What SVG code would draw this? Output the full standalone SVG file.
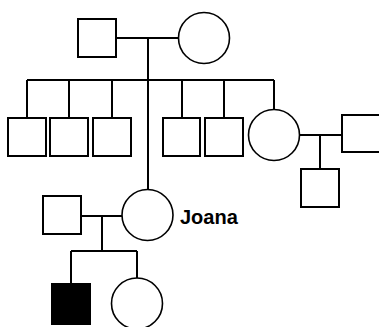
<svg xmlns="http://www.w3.org/2000/svg" width="379" height="327" viewBox="0 0 379 327">
  <style>
    .m { fill: #fff; stroke: #000; stroke-width: 2; }
    .f { fill: #fff; stroke: #000; stroke-width: 1.6; }
    .a { fill: #000; stroke: #000; stroke-width: 2; }
    .ln { fill: none; stroke: #000; stroke-width: 2; }
    .lbl { font-family: "Liberation Sans", Arial, sans-serif; font-weight: bold; font-size: 20px; fill: #000; }
  </style>
  <rect width="379" height="327" fill="#fff"/>
  <g id="connectors" class="ln">
    <!-- grandparents couple and descent -->
    <path d="M116 38H179M148 38V189"/>
    <path d="M27 80H274M27 80V118M69 80V118M112 80V118M182 80V118M224 80V118M274 80V109"/>
    <!-- daughter's couple -->
    <path d="M299 135H342M320 135V169"/>
    <!-- Joana's couple -->
    <path d="M81 216H122M102 216V251M71 251H137M71 251V284M137 251V278"/>
  </g>
  <g id="grandfather"><rect class="m" x="78" y="19" width="38" height="38"/></g>
  <g id="grandmother"><circle class="f" cx="204" cy="38" r="25.5"/></g>
  <g id="son1"><rect class="m" x="8" y="118" width="38" height="38"/></g>
  <g id="son2"><rect class="m" x="50" y="118" width="38" height="38"/></g>
  <g id="son3"><rect class="m" x="93" y="118" width="38" height="38"/></g>
  <g id="son4"><rect class="m" x="163" y="118" width="37" height="38"/></g>
  <g id="son5"><rect class="m" x="205" y="118" width="38" height="38"/></g>
  <g id="daughter"><circle class="f" cx="274" cy="135" r="25.5"/></g>
  <g id="son-in-law"><rect class="m" x="342" y="115" width="38" height="37"/></g>
  <g id="grandson"><rect class="m" x="301" y="169" width="38" height="38"/></g>
  <g id="joana">
    <circle class="f" cx="147.5" cy="215" r="25.5"/>
    <text class="lbl" x="180" y="224">Joana</text>
  </g>
  <g id="joana-husband"><rect class="m" x="43" y="196" width="38" height="38"/></g>
  <g id="affected-son"><rect class="a" x="52" y="284" width="38" height="40"/></g>
  <g id="joana-daughter"><circle class="f" cx="137" cy="303.5" r="25.5"/></g>
</svg>
